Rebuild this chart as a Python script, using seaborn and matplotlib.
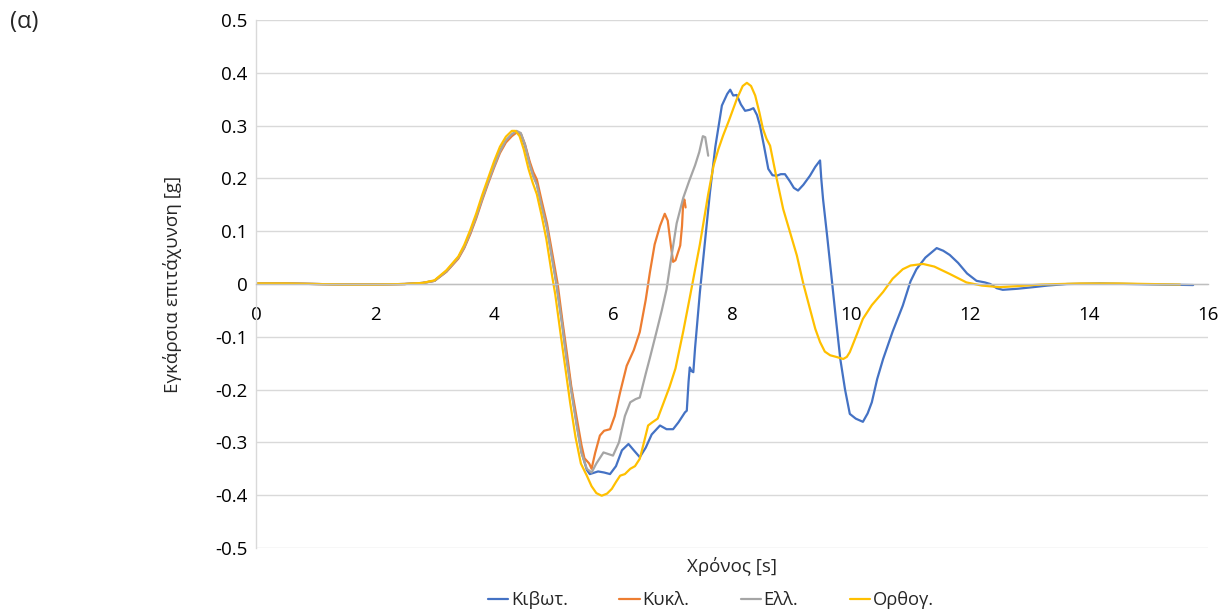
import matplotlib
matplotlib.use("Agg")
import matplotlib.pyplot as plt
import seaborn as sns
import pandas as pd

# Transverse acceleration time histories for four cross-section shapes
t_box = [0.0, 0.5, 1.0, 1.5, 2.0, 2.5, 2.8, 3.0, 3.2, 3.4, 3.5, 3.6, 3.7, 3.8, 3.9, 4.0,
         4.1, 4.2, 4.3, 4.38, 4.45, 4.52, 4.6, 4.66, 4.72, 4.8, 4.89, 5.0, 5.05, 5.15,
         5.22, 5.3, 5.39, 5.47, 5.56, 5.61, 5.75, 5.85, 5.95, 6.05, 6.15, 6.26, 6.35,
         6.45, 6.55, 6.65, 6.79, 6.9, 7.01, 7.1, 7.21, 7.24, 7.27, 7.29, 7.32, 7.35,
         7.38, 7.46, 7.55, 7.63, 7.72, 7.83, 7.92, 7.97, 8.02, 8.08, 8.15, 8.22, 8.3,
         8.36, 8.42, 8.47, 8.54, 8.61, 8.68, 8.75, 8.82, 8.89, 8.97, 9.04, 9.11, 9.2,
         9.31, 9.4, 9.48, 9.5, 9.53, 9.6, 9.67, 9.75, 9.82, 9.9, 9.98, 10.08, 10.2,
         10.28, 10.35, 10.44, 10.54, 10.7, 10.87, 11.0, 11.1, 11.25, 11.44, 11.55,
         11.66, 11.8, 11.95, 12.11, 12.25, 12.34, 12.45, 12.55, 12.8, 13.06, 13.3,
         13.63, 14.18, 14.7, 15.2, 15.75]
a_box = [0.001, 0.001, 0.0, -0.001, -0.001, 0.0, 0.002, 0.006, 0.024, 0.05, 0.07, 0.097,
         0.128, 0.162, 0.194, 0.224, 0.252, 0.271, 0.282, 0.288, 0.284, 0.262, 0.228,
         0.205, 0.19, 0.15, 0.108, 0.035, 0.0, -0.078, -0.14, -0.2, -0.265, -0.318,
         -0.352, -0.36, -0.355, -0.357, -0.36, -0.345, -0.315, -0.303, -0.315, -0.328,
         -0.31, -0.285, -0.268, -0.275, -0.275, -0.262, -0.243, -0.24, -0.185, -0.158,
         -0.165, -0.167, -0.12, -0.016, 0.085, 0.174, 0.26, 0.338, 0.36, 0.368, 0.357,
         0.358, 0.34, 0.328, 0.33, 0.333, 0.32, 0.3, 0.26, 0.218, 0.206, 0.205, 0.208,
         0.208, 0.195, 0.182, 0.177, 0.188, 0.205, 0.222, 0.234, 0.2, 0.161, 0.09, 0.016,
         -0.07, -0.142, -0.2, -0.246, -0.255, -0.261, -0.245, -0.224, -0.18, -0.142,
         -0.09, -0.041, 0.005, 0.028, 0.05, 0.068, 0.063, 0.055, 0.04, 0.02, 0.006,
         0.003, 0.0, -0.008, -0.011, -0.009, -0.006, -0.003, 0.0, 0.001, 0.0, -0.001,
         -0.002]

t_circ = [0.0, 0.5, 1.0, 1.5, 2.0, 2.5, 2.8, 3.0, 3.2, 3.4, 3.5, 3.6, 3.7, 3.8, 3.9, 4.0,
          4.1, 4.2, 4.3, 4.38, 4.45, 4.52, 4.6, 4.66, 4.72, 4.8, 4.89, 5.0, 5.07, 5.15,
          5.23, 5.3, 5.4, 5.47, 5.52, 5.56, 5.6, 5.64, 5.7, 5.78, 5.85, 5.95, 6.03,
          6.12, 6.23, 6.35, 6.45, 6.55, 6.62, 6.7, 6.79, 6.87, 6.92, 6.97, 7.01, 7.05,
          7.13, 7.16, 7.18, 7.2, 7.22]
a_circ = [0.001, 0.001, 0.0, -0.001, -0.001, 0.0, 0.002, 0.006, 0.023, 0.048, 0.068,
          0.094, 0.124, 0.158, 0.19, 0.22, 0.248, 0.268, 0.28, 0.287, 0.285, 0.265,
          0.232, 0.212, 0.198, 0.158, 0.115, 0.045, 0.0, -0.07, -0.135, -0.195, -0.26,
          -0.305, -0.33, -0.335, -0.34, -0.35, -0.32, -0.287, -0.278, -0.275, -0.25,
          -0.205, -0.155, -0.125, -0.091, -0.03, 0.022, 0.075, 0.11, 0.133, 0.12, 0.075,
          0.042, 0.045, 0.073, 0.11, 0.155, 0.16, 0.145]

t_ell = [0.0, 0.5, 1.0, 1.5, 2.0, 2.5, 2.8, 3.0, 3.2, 3.4, 3.5, 3.6, 3.7, 3.8, 3.9, 4.0,
         4.1, 4.2, 4.3, 4.38, 4.45, 4.52, 4.6, 4.66, 4.72, 4.8, 4.89, 5.0, 5.05, 5.15,
         5.22, 5.3, 5.39, 5.47, 5.56, 5.64, 5.72, 5.84, 5.92, 6.0, 6.1, 6.2, 6.29,
         6.38, 6.45, 6.55, 6.62, 6.73, 6.82, 6.9, 6.98, 7.07, 7.18, 7.28, 7.38, 7.45,
         7.51, 7.55, 7.6]
a_ell = [0.001, 0.001, 0.0, -0.001, -0.001, 0.0, 0.002, 0.006, 0.024, 0.05, 0.07, 0.097,
         0.127, 0.161, 0.193, 0.223, 0.251, 0.272, 0.284, 0.29, 0.286, 0.264, 0.226,
         0.204, 0.188, 0.148, 0.106, 0.033, 0.0, -0.08, -0.142, -0.203, -0.268, -0.32,
         -0.35, -0.357, -0.34, -0.319, -0.322, -0.325, -0.3, -0.25, -0.224, -0.218,
         -0.215, -0.17, -0.14, -0.091, -0.05, -0.01, 0.05, 0.115, 0.163, 0.195, 0.225,
         0.25, 0.28, 0.278, 0.243]

t_rect = [0.0, 0.5, 1.0, 1.5, 2.0, 2.5, 2.8, 3.0, 3.2, 3.4, 3.5, 3.6, 3.7, 3.8, 3.9, 4.0,
          4.1, 4.2, 4.3, 4.36, 4.43, 4.5, 4.58, 4.65, 4.72, 4.8, 4.88, 4.97, 5.03, 5.12,
          5.2, 5.28, 5.37, 5.46, 5.56, 5.64, 5.72, 5.81, 5.9, 5.98, 6.05, 6.12, 6.2,
          6.29, 6.37, 6.45, 6.52, 6.59, 6.66, 6.75, 6.85, 6.95, 7.05, 7.18, 7.3, 7.46,
          7.6, 7.69, 7.77, 7.85, 7.95, 8.08, 8.18, 8.25, 8.32, 8.39, 8.46, 8.52, 8.58,
          8.64, 8.75, 8.86, 8.97, 9.09, 9.2, 9.31, 9.4, 9.48, 9.56, 9.65, 9.75, 9.87,
          9.93, 9.98, 10.1, 10.2, 10.35, 10.54, 10.7, 10.87, 11.0, 11.21, 11.4, 11.66,
          11.94, 12.2, 12.5, 12.8, 13.2, 13.85, 14.5, 15.0, 15.53]
a_rect = [0.001, 0.001, 0.0, -0.001, -0.001, 0.0, 0.002, 0.007, 0.026, 0.052, 0.074,
          0.102, 0.133, 0.168, 0.2, 0.232, 0.26, 0.279, 0.29, 0.29, 0.28, 0.255, 0.218,
          0.192, 0.17, 0.13, 0.085, 0.02, -0.02, -0.095, -0.16, -0.225, -0.29, -0.34,
          -0.363, -0.383, -0.396, -0.401, -0.397, -0.388, -0.375, -0.363, -0.36, -0.35,
          -0.345, -0.331, -0.3, -0.268, -0.262, -0.255, -0.225, -0.195, -0.16, -0.09,
          -0.02, 0.075, 0.17, 0.224, 0.255, 0.281, 0.31, 0.35, 0.375, 0.381, 0.375,
          0.357, 0.325, 0.294, 0.275, 0.262, 0.2, 0.142, 0.1, 0.054, 0.0, -0.047,
          -0.085, -0.11, -0.128, -0.135, -0.138, -0.142, -0.138, -0.129, -0.095, -0.066,
          -0.04, -0.015, 0.01, 0.028, 0.035, 0.038, 0.033, 0.019, 0.003, -0.003, -0.006,
          -0.004, -0.001, 0.001, 0.001, 0.0, -0.001]

series_names = ["Κιβωτ.", "Κυκλ.", "Ελλ.", "Ορθογ."]
series_colors = ["#4472C4", "#ED7D31", "#A5A5A5", "#FFC000"]
x_ticks = [0, 2, 4, 6, 8, 10, 12, 14, 16]
y_ticks = [-0.5, -0.4, -0.3, -0.2, -0.1, 0.0, 0.1, 0.2, 0.3, 0.4, 0.5]
y_tick_labels = ["-0.5", "-0.4", "-0.3", "-0.2", "-0.1", "0", "0.1", "0.2", "0.3", "0.4", "0.5"]

frames = []
for name, t, a in zip(series_names,
                      [t_box, t_circ, t_ell, t_rect],
                      [a_box, a_circ, a_ell, a_rect]):
    frames.append(pd.DataFrame({"t": t, "a": a, "series": name}))
df = pd.concat(frames, ignore_index=True)

sns.set_style("white")
plt.rcParams["font.family"] = ["Open Sans", "DejaVu Sans"]

fig = plt.figure(figsize=(12.28, 6.10), dpi=100)
ax = fig.add_axes([256 / 1228, 62 / 610, 952 / 1228, 528 / 610])

sns.lineplot(data=df, x="t", y="a", hue="series", hue_order=series_names,
             palette=series_colors, sort=False, estimator=None, linewidth=1.6,
             legend=False, ax=ax)

ax.set_xlim(0, 16)
ax.set_ylim(-0.5, 0.5)
ax.set_xticks(x_ticks)
ax.set_xticklabels([str(v) for v in x_ticks])
ax.set_yticks(y_ticks)
ax.set_yticklabels(y_tick_labels)
ax.yaxis.grid(True, color="#d9d9d9", linewidth=1.0)
ax.xaxis.grid(False)
ax.set_axisbelow(True)

for side in ("top", "right"):
    ax.spines[side].set_visible(False)
ax.spines["left"].set_color("#d9d9d9")
ax.spines["left"].set_linewidth(1.0)
ax.spines["bottom"].set_position(("data", 0))
ax.spines["bottom"].set_color("#bfbfbf")
ax.spines["bottom"].set_linewidth(1.0)

ax.tick_params(axis="both", length=0, labelsize=13.5, colors="black")
ax.tick_params(axis="x", pad=15.5)
ax.tick_params(axis="y", pad=6)

ax.set_xlabel("Χρόνος [s]", fontsize=13.5, va="center")
ax.xaxis.set_label_coords(0.5, -(567 - 548) / 528)
ax.set_ylabel("Εγκάρσια επιτάχυνση [g]", fontsize=13.5, va="center")
ax.yaxis.set_label_coords(-(256 - 172) / 952, 0.5)

handles = [plt.Line2D([], [], color=c, linewidth=1.6) for c in series_colors]
fig.legend(handles, series_names, loc="center", ncol=4, frameon=False,
           bbox_to_anchor=(711 / 1228, 1 - 600 / 610), fontsize=13.2,
           handlelength=1.1, handletextpad=0.15, columnspacing=2.8,
           borderaxespad=0, borderpad=0)

fig.text(10 / 1228, 1 - 22 / 610, "(α)", fontsize=17, ha="left", va="center")

fig.savefig("out.png", dpi=100)
